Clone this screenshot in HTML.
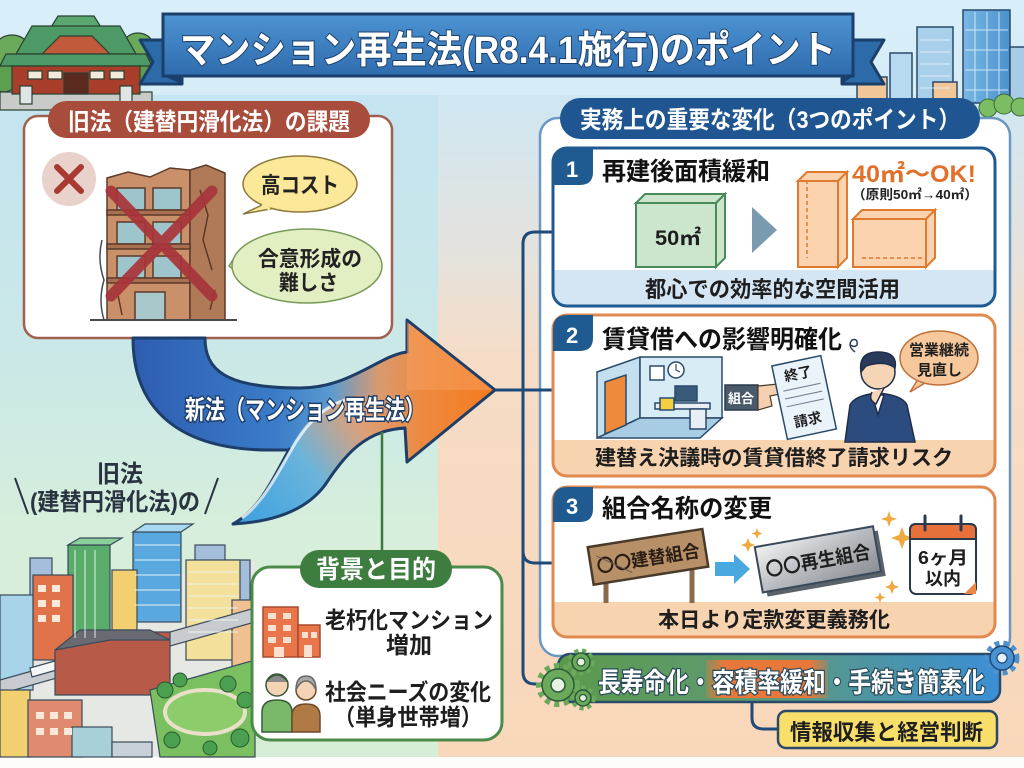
<!DOCTYPE html>
<html><head><meta charset="utf-8"><style>
html,body{margin:0;padding:0;width:1024px;height:768px;overflow:hidden;background:#fff}
svg{display:block}
.t{font-family:"Liberation Sans","Noto Sans CJK JP",sans-serif;font-weight:700}
</style></head><body>
<svg width="1024" height="768" viewBox="0 0 1024 768" xmlns="http://www.w3.org/2000/svg">
<defs>
<linearGradient id="skyG" x1="0" y1="0" x2="0" y2="1"><stop offset="0" stop-color="#d8eef8"/><stop offset="1" stop-color="#c9e5f1"/></linearGradient>
<linearGradient id="leftG" x1="0" y1="95" x2="0" y2="757" gradientUnits="userSpaceOnUse"><stop offset="0" stop-color="#c3e4f0"/><stop offset="0.45" stop-color="#cce9e6"/><stop offset="0.65" stop-color="#d6eedb"/><stop offset="1" stop-color="#d7eed6"/></linearGradient>
<linearGradient id="rightG" x1="0" y1="95" x2="0" y2="757" gradientUnits="userSpaceOnUse"><stop offset="0" stop-color="#cfe7f3"/><stop offset="0.25" stop-color="#e6e2dc"/><stop offset="0.4" stop-color="#f6dcc6"/><stop offset="1" stop-color="#f9d7ba"/></linearGradient>
<linearGradient id="titleG" x1="0" y1="0" x2="0" y2="1"><stop offset="0" stop-color="#4d93d2"/><stop offset="1" stop-color="#2f6cae"/></linearGradient>
<linearGradient id="arrowG" x1="130" y1="0" x2="495" y2="0" gradientUnits="userSpaceOnUse"><stop offset="0" stop-color="#2e5cb0"/><stop offset="0.4" stop-color="#3a7cc8"/><stop offset="0.55" stop-color="#5a9ad0"/><stop offset="0.68" stop-color="#d89a70"/><stop offset="0.8" stop-color="#ee8a40"/><stop offset="1" stop-color="#f47a1e"/></linearGradient>
<linearGradient id="sweepG" x1="233" y1="524" x2="405" y2="400" gradientUnits="userSpaceOnUse"><stop offset="0" stop-color="#3aa0e0"/><stop offset="0.45" stop-color="#6ab4dc"/><stop offset="0.75" stop-color="#dca07a"/><stop offset="1" stop-color="#ee8a40"/></linearGradient>
<linearGradient id="bannerG" x1="558" y1="0" x2="1000" y2="0" gradientUnits="userSpaceOnUse"><stop offset="0" stop-color="#5b9a4c"/><stop offset="0.45" stop-color="#5e9a74"/><stop offset="1" stop-color="#3b8fd6"/></linearGradient>
<linearGradient id="patchG" x1="0" y1="0" x2="1" y2="0"><stop offset="0" stop-color="#e8783a" stop-opacity="0.3"/><stop offset="0.15" stop-color="#e8783a"/><stop offset="0.85" stop-color="#e8783a"/><stop offset="1" stop-color="#e8783a" stop-opacity="0.3"/></linearGradient>
<linearGradient id="silverG" x1="0" y1="0" x2="1" y2="1"><stop offset="0" stop-color="#f2f2f2"/><stop offset="0.5" stop-color="#b8bcc0"/><stop offset="1" stop-color="#8a8e94"/></linearGradient>
<linearGradient id="glassG" x1="0" y1="0" x2="1" y2="0"><stop offset="0" stop-color="#7ab8e4"/><stop offset="1" stop-color="#4a92cc"/></linearGradient>
<clipPath id="c1"><rect x="553" y="148" width="442" height="158" rx="14"/></clipPath>
<clipPath id="c2"><rect x="553" y="315" width="442" height="161" rx="14"/></clipPath>
<clipPath id="c3"><rect x="553" y="487" width="442" height="150" rx="14"/></clipPath>
</defs>

<!-- backgrounds -->
<rect x="0" y="0" width="1024" height="768" fill="url(#skyG)"/>
<rect x="0" y="95" width="440" height="662" fill="url(#leftG)"/>
<rect x="438" y="95" width="586" height="662" fill="url(#rightG)"/>
<rect x="0" y="757" width="1024" height="11" fill="#fdfdfb"/>

<!-- shrine -->
<g stroke="#2a4030" stroke-width="1.2">
<circle cx="12" cy="55" r="20" fill="#6aaa5a"/><circle cx="4" cy="78" r="14" fill="#5e9e50"/>
<circle cx="138" cy="50" r="17" fill="#6aaa5a"/><circle cx="146" cy="72" r="13" fill="#5e9e50"/>
<rect x="0" y="92" width="152" height="18" fill="#c8ccc8"/>
<polygon points="58,16 94,16 104,32 48,32" fill="#5aa870"/>
<polygon points="32,26 120,26 136,54 16,54" fill="#4e9a66"/>
<polygon points="60,36 92,36 110,54 42,54" fill="#c05a3a"/>
<polygon points="6,54 146,54 152,66 0,66" fill="#4e9a66"/>
<rect x="12" y="66" width="128" height="28" fill="#a83e2a"/>
<rect x="28" y="71" width="14" height="8" fill="#f4eadc"/><rect x="48" y="71" width="14" height="8" fill="#f4eadc"/><rect x="90" y="71" width="14" height="8" fill="#f4eadc"/><rect x="110" y="71" width="14" height="8" fill="#f4eadc"/>
<rect x="64" y="73" width="24" height="21" fill="#5a2a1e"/>
<rect x="20" y="86" width="12" height="18" fill="#dfe4e4"/><rect x="120" y="86" width="12" height="18" fill="#dfe4e4"/>
</g>

<!-- top right buildings -->
<g stroke="#2a4a6a" stroke-width="1.5">
<rect x="857" y="77" width="30" height="24" fill="#f1c79a"/>
<rect x="890" y="53" width="22" height="48" fill="#b8daf0"/>
<rect x="917" y="27" width="36" height="74" fill="#a8d0ea"/>
<rect x="933" y="82" width="24" height="18" fill="#f1c79a"/>
<rect x="963" y="10" width="47" height="93" fill="url(#glassG)"/>
<rect x="1010" y="47" width="16" height="56" fill="#a8cce6"/>
</g>
<g stroke="#e8f4fb" stroke-width="1" opacity="0.8">
<line x1="920" y1="40" x2="950" y2="40"/><line x1="920" y1="52" x2="950" y2="52"/><line x1="920" y1="64" x2="950" y2="64"/><line x1="920" y1="76" x2="950" y2="76"/><line x1="920" y1="88" x2="950" y2="88"/>
<line x1="975" y1="12" x2="975" y2="101"/><line x1="987" y1="12" x2="987" y2="101"/><line x1="999" y1="12" x2="999" y2="101"/>
<line x1="965" y1="30" x2="1008" y2="30"/><line x1="965" y1="50" x2="1008" y2="50"/><line x1="965" y1="70" x2="1008" y2="70"/><line x1="965" y1="90" x2="1008" y2="90"/>
</g>
<g fill="#7cbc62" stroke="#3a6a3a" stroke-width="1"><circle cx="988" cy="108" r="9"/><circle cx="1004" cy="104" r="10"/><circle cx="1020" cy="107" r="9"/></g>

<!-- title ribbon -->
<polygon points="140,40 182,40 182,84 140,84 153,62" fill="#2d6aa8" stroke="#1b3f6b" stroke-width="3" stroke-linejoin="round"/>
<polygon points="884,40 842,40 842,84 884,84 871,62" fill="#2d6aa8" stroke="#1b3f6b" stroke-width="3" stroke-linejoin="round"/>
<polygon points="163,76 182,84 182,76" fill="#1b3f6b"/>
<polygon points="853,76 842,84 842,76" fill="#1b3f6b"/>
<rect x="163" y="14" width="690" height="62" fill="url(#titleG)" stroke="#1b3f6b" stroke-width="3"/>
<text class="t" x="180" y="63" font-size="38" fill="#fff" stroke="#1b3f6b" stroke-width="2" paint-order="stroke" textLength="656" lengthAdjust="spacingAndGlyphs">マンション再生法(R8.4.1施行)のポイント</text>

<!-- left top box -->
<rect x="24" y="116" width="368" height="222" rx="14" fill="#fff" stroke="#a0604e" stroke-width="2.5"/>
<rect x="48" y="101" width="322" height="37" rx="18.5" fill="#a84c3c"/>
<text class="t" x="68" y="130" font-size="24" fill="#fff" textLength="282" lengthAdjust="spacingAndGlyphs">旧法（建替円滑化法）の課題</text>
<circle cx="69" cy="179" r="27" fill="#ead2cc"/>
<path d="M57,167 L81,191 M81,167 L57,191" stroke="#a83a32" stroke-width="6" stroke-linecap="round"/>
<!-- building -->
<g stroke="#5a3a2a" stroke-width="1.5">
<polygon points="107,178 128,172 150,177 170,168 190,170 190,320 107,320" fill="#c9906a"/>
<polygon points="190,170 206,165 225,173 225,320 190,320" fill="#b07a58"/>
<rect x="117" y="188" width="28" height="22" fill="#9ec4cc"/><rect x="153" y="188" width="28" height="22" fill="#9ec4cc"/>
<rect x="117" y="222" width="28" height="22" fill="#9ec4cc"/><rect x="153" y="222" width="28" height="22" fill="#9ec4cc"/>
<rect x="117" y="256" width="28" height="22" fill="#9ec4cc"/><rect x="153" y="256" width="28" height="22" fill="#9ec4cc"/>
<rect x="107" y="210" width="83" height="5" fill="#a87050"/><rect x="107" y="244" width="83" height="5" fill="#a87050"/><rect x="107" y="278" width="83" height="5" fill="#a87050"/>
<rect x="135" y="292" width="30" height="28" fill="#a8c8cc"/>
</g>
<path d="M200,190 L208,215 L203,240 L212,270 M215,290 L210,310 M118,295 L122,315" stroke="#5a3a2a" stroke-width="1.5" fill="none"/>
<path d="M102,240 q-5,20 2,40 q-6,20 0,40" stroke="#4a4a4a" stroke-width="1.5" fill="none"/>
<line x1="90" y1="320" x2="237" y2="320" stroke="#4a4a4a" stroke-width="2"/>
<path d="M111,191 L212,296 M212,191 L111,296" stroke="#a8343a" stroke-width="11" stroke-linecap="round" opacity="0.92"/>
<!-- bubbles -->
<path d="M262,205 L243,214 L270,209 Z" fill="#fbe898" stroke="#8a7a40" stroke-width="1.5"/>
<ellipse cx="300" cy="184" rx="57" ry="28" fill="#fbe898" stroke="#8a7a40" stroke-width="1.5"/>
<path d="M262,205 L270,209" stroke="#fbe898" stroke-width="3"/>
<text class="t" x="261" y="193" font-size="22" fill="#222" textLength="78" lengthAdjust="spacingAndGlyphs">高コスト</text>
<path d="M236,255 L229,266 L240,275 Z" fill="#e1efc2" stroke="#7a9a5a" stroke-width="1.5"/>
<ellipse cx="307" cy="266" rx="75" ry="37" fill="#e1efc2" stroke="#7a9a5a" stroke-width="1.5"/>
<text class="t" x="258" y="266" font-size="21" fill="#222" textLength="104" lengthAdjust="spacingAndGlyphs">合意形成の</text>
<text class="t" x="279" y="290" font-size="21" fill="#222" textLength="59" lengthAdjust="spacingAndGlyphs">難しさ</text>

<!-- arrow -->
<path d="M133,338 L205,338 C205,370 225,388 300,388 C350,388 380,355 407,352 L407,320 L495,390 L407,462 L405,428 C370,430 340,450 300,450 L270,450 C180,450 133,410 133,338 Z" fill="url(#arrowG)" stroke="#1e3e6a" stroke-width="3" stroke-linejoin="round"/>
<path d="M407,322 L493,390 L407,390 Z" fill="#f6a060" opacity="0.5"/>
<path d="M233,524 C262,508 278,470 295,440 C310,415 330,400 360,395 L405,428 C365,430 345,455 325,485 C305,512 270,522 233,524 Z" fill="url(#sweepG)"/>
<path d="M405,428 C365,430 345,455 325,485 C305,512 270,522 233,524 C262,508 276,472 290,448" fill="none" stroke="#1e3e6a" stroke-width="3" stroke-linejoin="round"/>
<path d="M242,518 C266,500 280,468 296,442 C310,420 326,406 345,400" fill="none" stroke="#e8f6ff" stroke-width="3" opacity="0.85"/>
<text class="t" x="185" y="419" font-size="26" fill="#fff" stroke="#1e3e6a" stroke-width="3" paint-order="stroke" textLength="240" lengthAdjust="spacingAndGlyphs">新法（マンション再生法）</text>

<!-- old law label -->
<text class="t" x="97" y="482" font-size="24" fill="#2a3440" textLength="46" lengthAdjust="spacingAndGlyphs">旧法</text>
<text class="t" x="30" y="510" font-size="24" fill="#2a3440" textLength="170" lengthAdjust="spacingAndGlyphs">(建替円滑化法)の</text>
<line x1="15" y1="478" x2="28" y2="514" stroke="#2a3440" stroke-width="2"/>
<line x1="205" y1="514" x2="218" y2="478" stroke="#2a3440" stroke-width="2"/>

<!-- city -->
<g stroke="#3a4a5a" stroke-width="1.2">
<polygon points="0,610 255,560 255,757 0,757" fill="#e6e8e4" stroke="none"/>
<rect x="30" y="558" width="22" height="60" fill="#a4bedc"/>
<rect x="195" y="545" width="30" height="55" fill="#a4bedc"/>
<rect x="225" y="560" width="25" height="45" fill="#a4bedc"/>
<rect x="68" y="545" width="42" height="95" fill="#5aac6a"/>
<polygon points="68,545 80,538 122,538 110,545" fill="#8ad09a"/>
<rect x="133" y="532" width="48" height="90" fill="#5aa8e0"/>
<polygon points="133,532 145,524 193,524 181,532" fill="#a8d8f0"/>
<rect x="112" y="570" width="25" height="60" fill="#f2d070"/>
<rect x="33" y="575" width="40" height="85" fill="#e0734a"/>
<rect x="0" y="595" width="33" height="95" fill="#a8d4ea"/>
<rect x="186" y="560" width="54" height="100" fill="#f3e09a"/>
<rect x="232" y="600" width="23" height="80" fill="#f0c090"/>
<polygon points="0,680 255,608 255,622 0,694" fill="#c8ccd0"/>
<polygon points="30,668 90,651 92,660 32,677" fill="#f4f6f8"/>
<polygon points="55,650 110,632 170,632 170,695 55,695" fill="#b85a48"/>
<polygon points="55,650 80,630 150,630 170,640 110,640" fill="#6a6a72"/>
<polygon points="150,690 255,660 255,757 160,757" fill="#7ac060"/>
<ellipse cx="205" cy="712" rx="40" ry="22" fill="#8ccc6a" stroke="#e8e0c8" stroke-width="4"/>
<rect x="0" y="690" width="30" height="67" fill="#f2d070"/>
<rect x="28" y="700" width="54" height="57" fill="#e08a70"/>
<rect x="72" y="727" width="40" height="30" fill="#a8d0d8"/>
<rect x="112" y="742" width="40" height="15" fill="#c8d0d8"/>
</g>
<g stroke="#e8f4f0" stroke-width="1.2" opacity="0.8">
<line x1="75" y1="550" x2="75" y2="638"/><line x1="85" y1="550" x2="85" y2="638"/><line x1="95" y1="550" x2="95" y2="638"/>
<line x1="135" y1="545" x2="180" y2="545"/><line x1="135" y1="560" x2="180" y2="560"/><line x1="135" y1="575" x2="180" y2="575"/><line x1="135" y1="590" x2="180" y2="590"/><line x1="135" y1="605" x2="180" y2="605"/>
<line x1="188" y1="572" x2="238" y2="572"/><line x1="188" y1="584" x2="238" y2="584"/><line x1="188" y1="596" x2="238" y2="596"/><line x1="188" y1="608" x2="238" y2="608"/><line x1="188" y1="620" x2="238" y2="620"/><line x1="188" y1="632" x2="238" y2="632"/>
</g>
<g fill="#fbe8d8"><rect x="38" y="585" width="8" height="7"/><rect x="52" y="585" width="8" height="7"/><rect x="38" y="600" width="8" height="7"/><rect x="52" y="600" width="8" height="7"/><rect x="38" y="615" width="8" height="7"/><rect x="52" y="615" width="8" height="7"/><rect x="36" y="712" width="8" height="7"/><rect x="50" y="712" width="8" height="7"/><rect x="64" y="712" width="8" height="7"/><rect x="36" y="728" width="8" height="7"/><rect x="50" y="728" width="8" height="7"/><rect x="64" y="728" width="8" height="7"/></g>
<g fill="#4aa050" stroke="#2a5a30" stroke-width="1"><circle cx="165" cy="690" r="8"/><circle cx="180" cy="680" r="7"/><circle cx="228" cy="684" r="8"/><circle cx="245" cy="700" r="8"/><circle cx="172" cy="740" r="8"/><circle cx="240" cy="738" r="9"/><circle cx="210" cy="748" r="7"/></g>

<!-- green connector + box -->
<line x1="382" y1="432" x2="382" y2="552" stroke="#3a7a3a" stroke-width="2.5"/>
<rect x="252" y="567" width="250" height="173" rx="18" fill="#fff" stroke="#4a8a4a" stroke-width="3"/>
<rect x="300" y="550" width="152" height="38" rx="19" fill="#3d7d40"/>
<text class="t" x="316" y="578" font-size="25" fill="#fff" textLength="120" lengthAdjust="spacingAndGlyphs">背景と目的</text>
<g stroke="#a84a2a" stroke-width="1.5">
<rect x="263" y="607" width="35" height="50" fill="#e8764a"/>
<rect x="298" y="625" width="22" height="32" fill="#e8764a"/>
</g>
<g fill="#fbe0d0"><rect x="268" y="613" width="8" height="6"/><rect x="283" y="613" width="8" height="6"/><rect x="268" y="625" width="8" height="6"/><rect x="283" y="625" width="8" height="6"/><rect x="268" y="637" width="8" height="6"/><rect x="283" y="637" width="8" height="6"/><rect x="302" y="632" width="6" height="6"/><rect x="311" y="632" width="6" height="6"/><rect x="274" y="647" width="10" height="10"/><rect x="304" y="645" width="8" height="12"/></g>
<text class="t" x="325" y="628" font-size="23" fill="#1e1e1e" textLength="168" lengthAdjust="spacingAndGlyphs">老朽化マンション</text>
<text class="t" x="386" y="653" font-size="23" fill="#1e1e1e" textLength="46" lengthAdjust="spacingAndGlyphs">増加</text>
<g stroke="#3a5a3a" stroke-width="1.5">
<path d="M262,732 L262,712 Q262,700 277,700 Q292,700 292,712 L292,732 Z" fill="#7ab86a"/>
<circle cx="277" cy="685" r="11" fill="#f4d4b4"/>
<path d="M266,682 Q277,668 288,682" fill="#8a8a8a"/>
<path d="M292,732 L292,716 Q292,704 306,704 Q320,704 320,716 L320,732 Z" fill="#b07a44" stroke="#6a4a2a"/>
<circle cx="306" cy="690" r="10" fill="#f4d4b4" stroke="#6a4a2a"/>
<path d="M296,690 Q296,676 306,676 Q316,676 316,690 Q312,681 306,681 Q300,681 296,690" fill="#a8a8a8" stroke="#6a6a6a"/>
</g>
<text class="t" x="325" y="700" font-size="23" fill="#1e1e1e" textLength="166" lengthAdjust="spacingAndGlyphs">社会ニーズの変化</text>
<text class="t" x="334" y="725" font-size="23" fill="#1e1e1e" textLength="148" lengthAdjust="spacingAndGlyphs">（単身世帯増）</text>

<!-- right container -->
<rect x="540" y="118" width="470" height="538" rx="18" fill="#fff" stroke="#6a98c0" stroke-width="2.5"/>
<!-- connectors -->
<g fill="none" stroke="#1e4a7a" stroke-width="3">
<path d="M553,232 L535,232 Q523,232 523,244 L523,672 Q523,684 535,684 L560,684"/>
<path d="M495,390 L553,390"/>
<path d="M523,551 Q523,563 535,563 L553,563"/>
<path d="M752,702 L752,718 Q752,729 764,729 L780,729"/>
</g>
<rect x="560" y="98" width="420" height="41" rx="20.5" fill="#1f5590"/>
<text class="t" x="580" y="128" font-size="24" fill="#fff" textLength="380" lengthAdjust="spacingAndGlyphs">実務上の重要な変化（3つのポイント）</text>

<!-- panel 1 -->
<g clip-path="url(#c1)">
<rect x="553" y="148" width="442" height="158" fill="#fff"/>
<rect x="553" y="270" width="442" height="40" fill="#d4e6f4"/>
</g>
<rect x="553" y="148" width="442" height="158" rx="14" fill="none" stroke="#1f5a90" stroke-width="3"/>
<path d="M553,162 Q553,148 567,148 L593,148 L593,172 Q593,185 580,185 L553,185 Z" fill="#1f5a90"/>
<text class="t" x="566" y="177" font-size="22" fill="#fff">1</text>
<text class="t" x="602" y="180" font-size="25" fill="#111" textLength="168" lengthAdjust="spacingAndGlyphs">再建後面積緩和</text>
<g stroke="#4a8a5a" stroke-width="2" fill="#bfe0c0" fill-opacity="0.8">
<polygon points="636,203 645,194 725,194 716,203"/>
<polygon points="716,203 725,194 725,258 716,267"/>
<rect x="636" y="203" width="80" height="64"/>
</g>
<text class="t" x="655" y="245" font-size="21" fill="#1e1e1e" textLength="46" lengthAdjust="spacingAndGlyphs">50㎡</text>
<polygon points="752,207 777,230 752,253" fill="#7a9ab0"/>
<g stroke="#e07a30" stroke-width="2" fill="#fbd3ae">
<polygon points="798,181 807,172 847,172 838,181"/>
<polygon points="838,181 847,172 847,258 838,267"/>
<rect x="798" y="181" width="40" height="86"/>
<polygon points="853,219 862,210 935,210 926,219"/>
<polygon points="926,219 935,210 935,258 926,267"/>
<rect x="853" y="219" width="73" height="48"/>
</g>
<path d="M807,180 L807,258 M862,258 L926,258" stroke="#e07a30" stroke-width="1.5" stroke-dasharray="4 3" fill="none"/>
<text class="t" x="852" y="182" font-size="24" fill="#e0702a" textLength="124" lengthAdjust="spacingAndGlyphs">40㎡〜OK!</text>
<text class="t" x="852" y="199" font-size="13" fill="#222" textLength="126" lengthAdjust="spacingAndGlyphs">（原則50㎡→40㎡）</text>
<text class="t" x="645" y="297" font-size="22" fill="#1e1e1e" textLength="255" lengthAdjust="spacingAndGlyphs">都心での効率的な空間活用</text>

<!-- panel 2 -->
<g clip-path="url(#c2)">
<rect x="553" y="315" width="442" height="161" fill="#fff"/>
<rect x="553" y="440" width="442" height="40" fill="#f8d3b0"/>
</g>
<rect x="553" y="315" width="442" height="161" rx="14" fill="none" stroke="#e08a50" stroke-width="3"/>
<path d="M553,329 Q553,315 567,315 L593,315 L593,338 Q593,351 580,351 L553,351 Z" fill="#1f5a90"/>
<text class="t" x="566" y="343" font-size="22" fill="#fff">2</text>
<text class="t" x="602" y="348" font-size="25" fill="#111" textLength="240" lengthAdjust="spacingAndGlyphs">賃貸借への影響明確化</text>
<!-- room -->
<g stroke="#2a4a6a" stroke-width="1.5">
<polygon points="597,372 640,357 640,418 597,438" fill="#c4e0f0"/>
<rect x="640" y="357" width="82" height="61" fill="#d8ecf6"/>
<polygon points="597,438 640,418 722,418 700,438" fill="#a8cce4"/>
<polygon points="605,382 626,375 626,425 605,434" fill="#ee8a3a"/>
<circle cx="676" cy="370" r="8" fill="#fff"/>
<rect x="650" y="366" width="14" height="14" fill="#fff"/>
<rect x="655" y="403" width="55" height="6" fill="#e8eef4"/>
<rect x="675" y="386" width="22" height="15" fill="#3a5a7a"/>
<rect x="690" y="409" width="16" height="20" fill="#e8eef4"/>
<rect x="660" y="398" width="14" height="12" fill="#f2d040"/>
</g>
<path d="M676,364 L676,370 L680,372" stroke="#2a4a6a" stroke-width="1.2" fill="none"/>
<rect x="725" y="385" width="33" height="25" fill="#4a5a6a" stroke="#2a3a4a" stroke-width="1.5"/>
<text class="t" x="728" y="403" font-size="13" fill="#fff">組合</text>
<path d="M758,386 L778,384 Q786,388 780,394 L770,396 L772,406 L758,410 Z" fill="#f4d0b0" stroke="#4a3a2a" stroke-width="1.2"/>
<g transform="rotate(-12 804 397)">
<rect x="779" y="360" width="50" height="75" fill="#eaf2fa" stroke="#2a4a6a" stroke-width="1.5"/>
<text class="t" x="789" y="378" font-size="14" fill="#1e1e1e">終了</text>
<line x1="785" y1="387" x2="823" y2="387" stroke="#6a7a8a"/><line x1="785" y1="395" x2="823" y2="395" stroke="#6a7a8a"/><line x1="785" y1="403" x2="823" y2="403" stroke="#6a7a8a"/>
<text class="t" x="789" y="425" font-size="14" fill="#1e1e1e">請求</text>
</g>
<g stroke="#1e2e4a" stroke-width="1.5">
<path d="M845,442 L850,405 Q855,395 878,393 Q902,395 907,405 L915,442 Z" fill="#2c4c80"/>
<path d="M872,395 L878,415 L884,395 Z" fill="#fff"/>
<circle cx="878" cy="372" r="17" fill="#f6d4b6"/>
<path d="M861,372 Q858,352 878,352 Q898,352 895,368 Q885,360 866,366 Z" fill="#2a3a5a"/>
<path d="M872,392 Q868,400 876,404 L884,388" fill="#f6d4b6"/>
</g>
<path d="M855,352 q-8,-6 -3,-12 q6,-2 5,5 q-3,3 -6,0" stroke="#2a3a5a" stroke-width="1.5" fill="none"/>
<path d="M920,376 L910,392 L930,380 Z" fill="#f6c89c" stroke="#c0703a" stroke-width="1.5"/>
<ellipse cx="939" cy="358" rx="39" ry="27" fill="#f6c89c" stroke="#c0703a" stroke-width="1.5"/>
<text class="t" x="909" y="355" font-size="15" fill="#1e1e1e" textLength="60" lengthAdjust="spacingAndGlyphs">営業継続</text>
<text class="t" x="917" y="375" font-size="15" fill="#1e1e1e" textLength="45" lengthAdjust="spacingAndGlyphs">見直し</text>
<text class="t" x="595" y="465" font-size="21" fill="#1e1e1e" textLength="358" lengthAdjust="spacingAndGlyphs">建替え決議時の賃貸借終了請求リスク</text>

<!-- panel 3 -->
<g clip-path="url(#c3)">
<rect x="553" y="487" width="442" height="150" fill="#fff"/>
<rect x="553" y="602" width="442" height="40" fill="#f8d3b0"/>
</g>
<rect x="553" y="487" width="442" height="150" rx="14" fill="none" stroke="#e08a50" stroke-width="3"/>
<path d="M553,501 Q553,487 567,487 L593,487 L593,509 Q593,522 580,522 L553,522 Z" fill="#1f5a90"/>
<text class="t" x="566" y="514" font-size="22" fill="#fff">3</text>
<text class="t" x="602" y="517" font-size="25" fill="#111" textLength="170" lengthAdjust="spacingAndGlyphs">組合名称の変更</text>
<line x1="606" y1="570" x2="606" y2="603" stroke="#8a6a4a" stroke-width="5"/>
<line x1="692" y1="560" x2="692" y2="603" stroke="#8a6a4a" stroke-width="5"/>
<g transform="rotate(-9 647 557)">
<rect x="590" y="538" width="116" height="38" fill="#b89068" stroke="#4a3a2a" stroke-width="2.5"/>
<text class="t" x="596" y="565" font-size="18" fill="#2a1e14" textLength="104" lengthAdjust="spacingAndGlyphs">〇〇建替組合</text>
<line x1="597" y1="548" x2="630" y2="570" stroke="#6a5a4a" stroke-width="1"/>
</g>
<polygon points="715,562 734,562 734,554 750,569 734,584 734,576 715,576" fill="#4aa8e0"/>
<g transform="rotate(-10 820 560)">
<rect x="762" y="541" width="120" height="46" fill="#5a626a"/>
<rect x="758" y="536" width="120" height="46" fill="url(#silverG)" stroke="#3a4a5a" stroke-width="2"/>
<text class="t" x="765" y="567" font-size="19" fill="#1e1e1e" textLength="106" lengthAdjust="spacingAndGlyphs">〇〇再生組合</text>
</g>
<g fill="#f0a840">
<path d="M889,511 l2,6 6,2 -6,2 -2,6 -2,-6 -6,-2 6,-2 Z"/>
<path d="M902,527 l3,8 8,3 -8,3 -3,8 -3,-8 -8,-3 8,-3 Z"/>
<path d="M748,538 l2,5 5,2 -5,2 -2,5 -2,-5 -5,-2 5,-2 Z"/>
<path d="M757,528 l1.5,4 4,1.5 -4,1.5 -1.5,4 -1.5,-4 -4,-1.5 4,-1.5 Z"/>
<path d="M892,580 l2,5 5,2 -5,2 -2,5 -2,-5 -5,-2 5,-2 Z"/>
<path d="M880,592 l1.5,4 4,1.5 -4,1.5 -1.5,4 -1.5,-4 -4,-1.5 4,-1.5 Z"/>
</g>
<rect x="910" y="524" width="66" height="70" rx="6" fill="#fff" stroke="#2a3a4a" stroke-width="2"/>
<path d="M910,539 L910,530 Q910,524 916,524 L970,524 Q976,524 976,530 L976,539 Z" fill="#e8703a" stroke="#2a3a4a" stroke-width="2"/>
<line x1="925" y1="516" x2="925" y2="530" stroke="#2a3a4a" stroke-width="3" stroke-linecap="round"/>
<line x1="961" y1="516" x2="961" y2="530" stroke="#2a3a4a" stroke-width="3" stroke-linecap="round"/>
<polygon points="976,582 964,594 976,594" fill="#e8894a"/>
<text class="t" x="918" y="564" font-size="18" fill="#1e1e1e" textLength="50" lengthAdjust="spacingAndGlyphs">6ヶ月</text>
<text class="t" x="925" y="585" font-size="18" fill="#1e1e1e" textLength="36" lengthAdjust="spacingAndGlyphs">以内</text>
<text class="t" x="658" y="627" font-size="21" fill="#1e1e1e" textLength="232" lengthAdjust="spacingAndGlyphs">本日より定款変更義務化</text>

<!-- bottom banner -->
<rect x="558" y="654" width="442" height="48" rx="12" fill="url(#bannerG)" stroke="#2a4a6a" stroke-width="2.5"/>
<rect x="706" y="660" width="122" height="38" fill="url(#patchG)"/>
<text class="t" x="598" y="692" font-size="27" fill="#fff" stroke="#2a4a5a" stroke-width="2.5" paint-order="stroke" textLength="387" lengthAdjust="spacingAndGlyphs">長寿命化・容積率緩和・手続き簡素化</text>
<g>
<circle cx="558" cy="685" r="19" fill="none" stroke="#6aaa5a" stroke-width="6" stroke-dasharray="5 4.5"/>
<circle cx="558" cy="685" r="16" fill="#6aaa5a" stroke="#2a5a3a" stroke-width="1.5"/>
<circle cx="558" cy="685" r="7" fill="#e8f2e0" stroke="#2a5a3a" stroke-width="1.5"/>
<circle cx="581" cy="662" r="11" fill="none" stroke="#6aaa5a" stroke-width="5" stroke-dasharray="4 3.5"/>
<circle cx="581" cy="662" r="9" fill="#6aaa5a" stroke="#2a5a3a" stroke-width="1.5"/>
<circle cx="581" cy="662" r="4" fill="#e8f2e0" stroke="#2a5a3a" stroke-width="1.2"/>
<circle cx="583" cy="698" r="10" fill="none" stroke="#6aaa5a" stroke-width="5" stroke-dasharray="4 3.5"/>
<circle cx="583" cy="698" r="8" fill="#6aaa5a" stroke="#2a5a3a" stroke-width="1.5"/>
<circle cx="583" cy="698" r="3.5" fill="#e8f2e0" stroke="#2a5a3a" stroke-width="1.2"/>
<circle cx="1002" cy="658" r="15" fill="none" stroke="#4a92d0" stroke-width="5" stroke-dasharray="5 4"/>
<circle cx="1002" cy="658" r="12" fill="#4a92d0" stroke="#1e4a7a" stroke-width="1.5"/>
<circle cx="1002" cy="658" r="5" fill="#e4f0fa" stroke="#1e4a7a" stroke-width="1.2"/>
</g>
<rect x="778" y="711" width="219" height="37" rx="8" fill="#f8df6a" stroke="#2a4a6a" stroke-width="2.5"/>
<text class="t" x="790" y="740" font-size="22" fill="#1e1e1e" textLength="193" lengthAdjust="spacingAndGlyphs">情報収集と経営判断</text>
</svg>
</body></html>
